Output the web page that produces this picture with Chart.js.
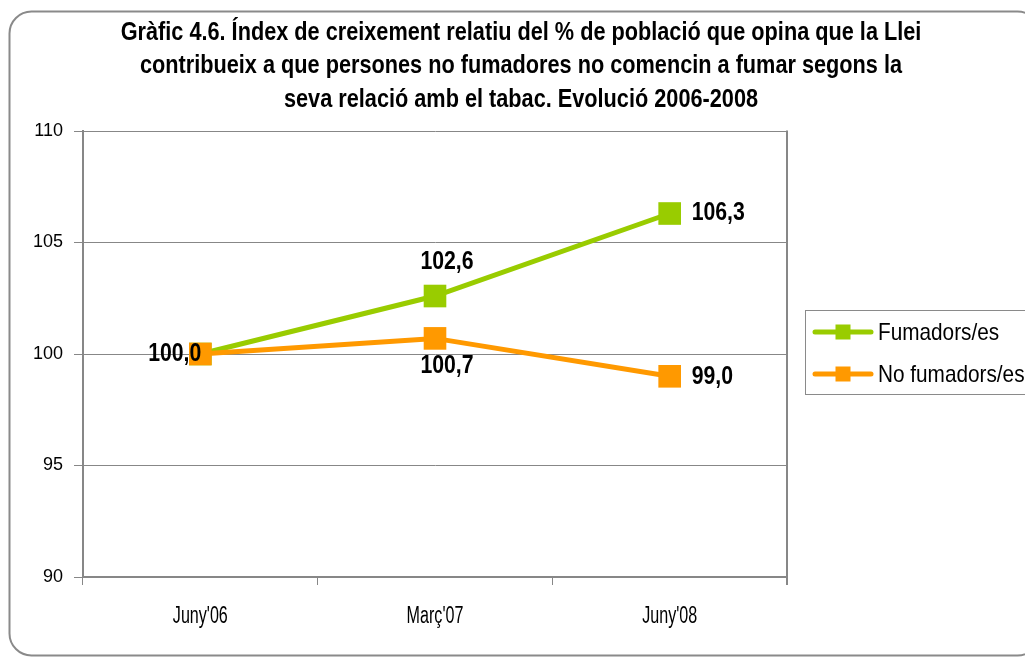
<!DOCTYPE html>
<html>
<head>
<meta charset="utf-8">
<script src="https://cdn.jsdelivr.net/npm/chart.js@4"></script>
<style>
  html, body { margin: 0; padding: 0; background: #fff; }
  #wrap { width: 1025px; height: 657px; position: relative; }
</style>
</head>
<body>
<div id="wrap"><canvas id="c" width="1025" height="657"></canvas></div>
<script>
// ---- data ----
const categories = ["Juny'06", "Març'07", "Juny'08"];
const seriesNames = ["Fumadors/es", "No fumadors/es"];
const fumadors = [100.0, 102.6, 106.3];
const noFumadors = [100.0, 100.7, 99.0];
const yTickValues = [90, 95, 100, 105, 110];
const titleLines = [
  "Gràfic 4.6. Índex de creixement relatiu del % de població que opina que la Llei",
  "contribueix a que persones no fumadores no comencin a fumar segons la",
  "seva relació amb el tabac. Evolució 2006-2008"
];

const GREEN = '#99CC00';
const ORANGE = '#FF9900';
const GRID = '#878787';
const FAMILY = "'Liberation Sans', Arial, sans-serif";

// label placement offsets per dataset / point (style only)
const labelPlacement = [
  [{dx: 1, dy: 0, align: 'right'}, {dx: 12, dy: -34, align: 'center'}, {dx: 22, dy: 0, align: 'left'}],
  [null, {dx: 12, dy: 28, align: 'center'}, {dx: 22, dy: 1, align: 'left'}]
];

function fmt(v) { return v.toFixed(1).replace('.', ','); }

// text drawn horizontally condensed (narrow face look)
function narrowText(ctx, text, x, y, align, sx) {
  ctx.save();
  ctx.translate(x, y);
  ctx.scale(sx, 1);
  ctx.textAlign = align;
  ctx.fillText(text, 0, 0);
  ctx.restore();
}

const deco = {
  id: 'deco',
  beforeDraw(chart) {
    const ctx = chart.ctx;
    ctx.save();
    ctx.fillStyle = '#fff';
    ctx.fillRect(0, 0, chart.width, chart.height);
    ctx.strokeStyle = '#8a8a8a';
    ctx.lineWidth = 2;
    ctx.beginPath();
    ctx.roundRect(9.5, 11.5, 1030, 644, 22);
    ctx.stroke();
    ctx.restore();
  },
  afterDraw(chart) {
    const ctx = chart.ctx;
    const ca = chart.chartArea;
    const xs = chart.scales.x;
    ctx.save();
    // right border of plot area
    ctx.strokeStyle = GRID;
    ctx.lineWidth = 2;
    ctx.beginPath();
    ctx.moveTo(ca.right, ca.top - 0.5);
    ctx.lineTo(ca.right, ca.bottom + 8);
    ctx.stroke();

    // category labels (condensed), placed by the x scale
    ctx.fillStyle = '#000';
    ctx.font = "23px " + FAMILY;
    ctx.textBaseline = 'alphabetic';
    chart.data.labels.forEach((lab, i) => {
      narrowText(ctx, lab, xs.getPixelForValue(i), 623, 'center', 0.70);
    });

    // data labels
    ctx.font = "bold 25px " + FAMILY;
    ctx.textBaseline = 'middle';
    chart.data.datasets.forEach((ds, di) => {
      const meta = chart.getDatasetMeta(di);
      meta.data.forEach((pt, i) => {
        const p = labelPlacement[di][i];
        if (!p) return;
        narrowText(ctx, fmt(ds.data[i]), pt.x + p.dx, pt.y + p.dy, p.align, 0.85);
      });
    });

    // title
    ctx.font = "bold 25px " + FAMILY;
    ctx.textBaseline = 'alphabetic';
    const tb = [39.5, 73, 106.5];
    titleLines.forEach((t, i) => narrowText(ctx, t, 521, tb[i], 'center', 0.868));

    // legend
    ctx.strokeStyle = '#8a8a8a';
    ctx.lineWidth = 1;
    ctx.strokeRect(805.5, 310.5, 240, 84);
    const ly = [332, 374];
    chart.data.datasets.forEach((ds, di) => {
      const y = ly[di];
      ctx.strokeStyle = ds.borderColor;
      ctx.lineWidth = 5;
      ctx.lineCap = 'round';
      ctx.beginPath();
      ctx.moveTo(815, y);
      ctx.lineTo(871, y);
      ctx.stroke();
      ctx.fillStyle = ds.borderColor;
      ctx.fillRect(843 - 7.5, y - 7.5, 15, 15);
      ctx.fillStyle = '#000';
      ctx.font = "24px " + FAMILY;
      ctx.textBaseline = 'middle';
      narrowText(ctx, ds.label, 878, y + 1, 'left', 0.865);
    });
    ctx.restore();
  }
};

new Chart(document.getElementById('c'), {
  type: 'line',
  data: {
    labels: categories,
    datasets: [
      {
        label: seriesNames[0], data: fumadors,
        borderColor: GREEN, backgroundColor: GREEN,
        borderWidth: 5, pointStyle: 'rect', pointRadius: 16, pointBorderWidth: 0,
        pointBackgroundColor: GREEN, order: 1, tension: 0
      },
      {
        label: seriesNames[1], data: noFumadors,
        borderColor: ORANGE, backgroundColor: ORANGE,
        borderWidth: 5, pointStyle: 'rect', pointRadius: 16, pointBorderWidth: 0,
        pointBackgroundColor: ORANGE, order: 0, tension: 0
      }
    ]
  },
  options: {
    responsive: false,
    animation: false,
    events: [],
    layout: { padding: { top: 131, right: 238, left: 0, bottom: 0 } },
    plugins: {
      legend: { display: false },
      title: { display: false },
      tooltip: { enabled: false }
    },
    scales: {
      x: {
        type: 'category',
        offset: true,
        grid: { display: true, drawOnChartArea: false, offset: true, tickLength: 8, color: GRID, lineWidth: 1 },
        border: { display: true, color: GRID, width: 2 },
        ticks: { display: false },
        afterFit(scale) { scale.height = 80; }
      },
      y: {
        min: 90, max: 110,
        afterBuildTicks(scale) { scale.ticks = yTickValues.map(v => ({ value: v })); },
        grid: { color: GRID, lineWidth: 1, tickLength: 9, drawTicks: true },
        border: { display: true, color: GRID, width: 2 },
        ticks: { color: '#000', font: { family: FAMILY, size: 18 }, padding: 11 },
        afterFit(scale) { scale.width = 83; }
      }
    }
  },
  plugins: [deco]
});
</script>
</body>
</html>
